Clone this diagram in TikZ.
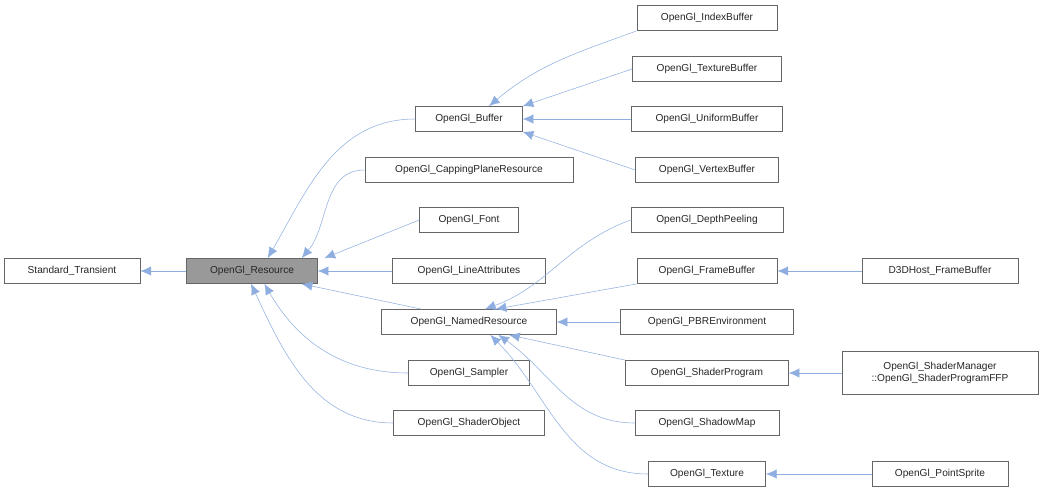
\documentclass[tikz,border=0pt]{standalone}
\usepackage{fontspec}
\setmainfont{Liberation Sans}
\usetikzlibrary{arrows.meta}

\begin{document}
\begin{tikzpicture}[x=0.75pt, y=-0.75pt, semithick,
cls/.style ={draw=black!60, fill=white, text = black!85, minimum height=18.75pt, inner xsep=3pt, font=\fontsize{7.6}{9}\selectfont},
cur/.style={cls, fill=black!40},
inh/.style={{Latex[length=8pt,width=7pt]}-, draw=cyan!50!blue!45!white, thin}]
\useasboundingbox (0,0) rectangle (1043,493);
\node[cls, minimum width=102pt] (st) at (72,271) {Standard\_Transient};
\node[cur, minimum width=98pt] (res) at (252,271) {OpenGl\_Resource};
\node[cls, minimum width=80pt] (buf) at (469,119) {OpenGl\_Buffer};
\node[cls, minimum width=156pt] (cap) at (469,170) {OpenGl\_CappingPlaneResource};
\node[cls, minimum width=74pt] (font) at (469,220) {OpenGl\_Font};
\node[cls, minimum width=115pt] (line) at (469,271) {OpenGl\_LineAttributes};
\node[cls, minimum width=131pt] (named) at (469,322) {OpenGl\_NamedResource};
\node[cls, minimum width=91pt] (samp) at (469,373) {OpenGl\_Sampler};
\node[cls, minimum width=113pt] (sobj) at (469,423) {OpenGl\_ShaderObject};
\node[cls, minimum width=105pt] (ibuf) at (707,18) {OpenGl\_IndexBuffer};
\node[cls, minimum width=112pt] (tbuf) at (707,69) {OpenGl\_TextureBuffer};
\node[cls, minimum width=113pt] (ubuf) at (707,119) {OpenGl\_UniformBuffer};
\node[cls, minimum width=107pt] (vbuf) at (707,170) {OpenGl\_VertexBuffer};
\node[cls, minimum width=114pt] (peel) at (707,220) {OpenGl\_DepthPeeling};
\node[cls, minimum width=105pt] (fbo) at (707,271) {OpenGl\_FrameBuffer};
\node[cls, minimum width=130pt] (pbr) at (707,322) {OpenGl\_PBREnvironment};
\node[cls, minimum width=122pt] (prog) at (707,373) {OpenGl\_ShaderProgram};
\node[cls, minimum width=108pt] (shadow) at (707,423) {OpenGl\_ShadowMap};
\node[cls, minimum width=88pt] (tex) at (707,474) {OpenGl\_Texture};
\node[cls, minimum width=117pt] (d3d) at (940,271) {D3DHost\_FrameBuffer};
\node[cls, minimum width=147pt, minimum height=32pt, align=center] (ffp) at (940,373) {OpenGl\_ShaderManager\\::OpenGl\_ShaderProgramFFP};
\node[cls, minimum width=102pt] (sprite) at (940,474) {OpenGl\_PointSprite};
\draw[inh] (st) -- (res);
\draw[inh] (res.north east) ++(-50,0) to[out=60,in=180] (buf.west);
\draw[inh] ([xshift=-12]res.north east) to[out=50,in=180] (cap.west);
\draw[inh] ([xshift=5]res.north east) -- (font.west);
\draw[inh] (res) -- (line);
\draw[inh] ([xshift=-12]res.south east) -- ([xshift=30]named.north west);
\draw[inh] ([xshift=-40]res.south east) to[out=-60,in=180] (samp.west);
\draw[inh] ([xshift=-50]res.south east) to[out=-65,in=180] (sobj.west);
\draw[inh] ([xshift=15]buf.north) to[out=40,in=200] (ibuf.south west);
\draw[inh] (buf.north east) -- (tbuf.west);
\draw[inh] (buf) -- (ubuf);
\draw[inh] (buf.south east) -- (vbuf.west);
\draw[inh] ([xshift=12]named.north) to[out=20,in=200] (peel.west);
\draw[inh] ([xshift=20]named.north) -- (fbo.south west);
\draw[inh] (named) -- (pbr);
\draw[inh] ([xshift=30]named.south) -- (prog.north west);
\draw[inh] ([xshift=22]named.south) to[out=-35,in=180] (shadow.west);
\draw[inh] ([xshift=16]named.south) to[out=-45,in=180] (tex.west);
\draw[inh] (fbo) -- (d3d);
\draw[inh] (prog) -- (ffp);
\draw[inh] (tex) -- (sprite);
\end{tikzpicture}
\end{document}
